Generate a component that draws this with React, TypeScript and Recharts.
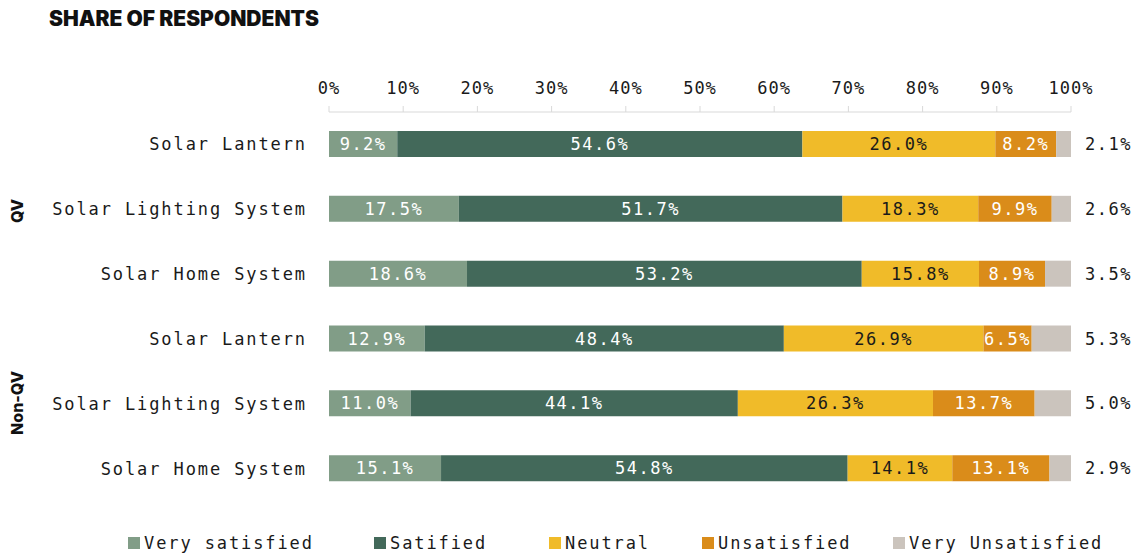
import React from 'react';
import { BarChart, Bar, XAxis, YAxis, LabelList } from 'recharts';

const categories = [
  'Solar Lantern',
  'Solar Lighting System',
  'Solar Home System',
  'Solar Lantern',
  'Solar Lighting System',
  'Solar Home System',
];
const groups = ['QV', 'QV', 'QV', 'Non-QV', 'Non-QV', 'Non-QV'];

const verySatisfied = [9.2, 17.5, 18.6, 12.9, 11.0, 15.1];
const satisfied = [54.6, 51.7, 53.2, 48.4, 44.1, 54.8];
const neutral = [26.0, 18.3, 15.8, 26.9, 26.3, 14.1];
const unsatisfied = [8.2, 9.9, 8.9, 6.5, 13.7, 13.1];
const veryUnsatisfied = [2.1, 2.6, 3.5, 5.3, 5.0, 2.9];

const xTicks = [0, 10, 20, 30, 40, 50, 60, 70, 80, 90, 100];

const series = [
  { key: 'verySatisfied', name: 'Very satisfied', color: '#819d87', text: '#ffffff' },
  { key: 'satisfied', name: 'Satified', color: '#43695a', text: '#ffffff' },
  { key: 'neutral', name: 'Neutral', color: '#f0bb29', text: '#1a1a1a' },
  { key: 'unsatisfied', name: 'Unsatisfied', color: '#da8c1a', text: '#ffffff' },
  { key: 'veryUnsatisfied', name: 'Very Unsatisfied', color: '#cbc4bd', text: '#1a1a1a' },
];

// legend item left edges, px
const legendLeft = [128, 374, 549, 702, 893];

const data = categories.map((name, i) => ({
  id: `${groups[i]}|${name}`,
  name,
  verySatisfied: verySatisfied[i],
  satisfied: satisfied[i],
  neutral: neutral[i],
  unsatisfied: unsatisfied[i],
  veryUnsatisfied: veryUnsatisfied[i],
}));

const MONO = '"DejaVu Sans Mono", "Liberation Mono", monospace';
const SANS = 'Inter, "Noto Sans", sans-serif';

const fmt = (v: number) => `${Number(v).toFixed(1)}%`;

export default function App() {
  return (
    <div style={{ position: 'absolute', left: 0, top: 0, width: 1140, height: 556, background: '#fff' }}>
      <div
        style={{
          position: 'absolute',
          left: 49,
          top: 6,
          fontFamily: SANS,
          fontWeight: 900,
          fontSize: 21,
          color: '#111',
        }}
      >
        SHARE OF RESPONDENTS
      </div>

      <BarChart
        width={1140}
        height={556}
        data={data}
        layout="vertical"
        margin={{ top: 82, right: 69, bottom: 55, left: 0 }}
        barSize={26}
      >
        <XAxis
          type="number"
          orientation="top"
          domain={[0, 100]}
          ticks={xTicks}
          allowDataOverflow
          height={30}
          tickFormatter={(v: number) => `${v}%`}
          axisLine={{ stroke: '#d9d9d9' }}
          tickLine={{ stroke: '#d9d9d9' }}
          tickSize={6}
          tickMargin={12}
          tick={{ fill: '#1a1a1a', fontSize: 17, fontFamily: MONO, letterSpacing: 1 }}
        />
        <YAxis
          type="category"
          dataKey="id"
          width={329}
          axisLine={false}
          tickLine={false}
          tickSize={0}
          tickMargin={22}
          tickFormatter={(v: string) => v.split('|')[1]}
          tick={{ fill: '#1a1a1a', fontSize: 17, fontFamily: MONO, letterSpacing: 1.9 }}
        />
        {series.map((s, idx) => (
          <Bar key={s.key} dataKey={s.key} stackId="a" fill={s.color} isAnimationActive={false}>
            <LabelList
              dataKey={s.key}
              position={idx === series.length - 1 ? 'right' : 'center'}
              offset={14}
              formatter={fmt}
              fill={idx === series.length - 1 ? '#1a1a1a' : s.text}
              style={{ fontSize: 17, fontFamily: MONO, letterSpacing: 1.5 }}
            />
          </Bar>
        ))}
      </BarChart>

      {[
        { label: 'QV', y: 211 },
        { label: 'Non-QV', y: 403 },
      ].map((g) => (
        <div
          key={g.label}
          style={{
            position: 'absolute',
            left: 17,
            top: g.y,
            transform: 'translate(-50%, -50%) rotate(-90deg)',
            fontFamily: SANS,
            fontWeight: 800,
            fontSize: 16,
            color: '#111',
            whiteSpace: 'nowrap',
          }}
        >
          {g.label}
        </div>
      ))}

      {series.map((s, i) => (
        <div
          key={s.key}
          style={{
            position: 'absolute',
            left: legendLeft[i],
            top: 533,
            display: 'flex',
            alignItems: 'center',
            gap: 4,
            fontFamily: MONO,
            fontSize: 17,
            letterSpacing: 1.9,
            color: '#1a1a1a',
            whiteSpace: 'nowrap',
          }}
        >
          <span style={{ width: 12, height: 12, background: s.color, display: 'inline-block' }} />
          <span>{s.name}</span>
        </div>
      ))}
    </div>
  );
}
